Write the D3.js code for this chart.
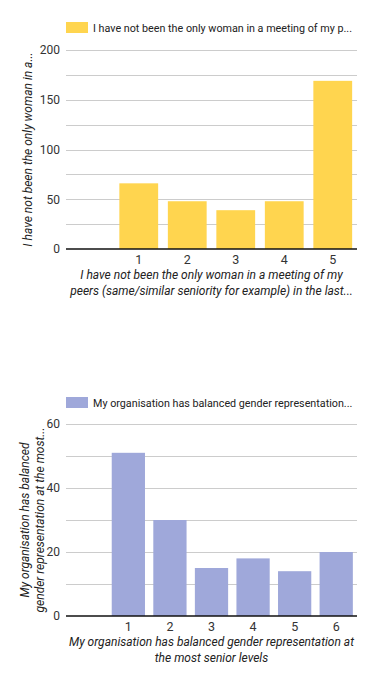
<!DOCTYPE html>
<html>
<head>
<meta charset="utf-8">
<script src="https://cdn.jsdelivr.net/npm/d3@7"></script>
<style>
  body { margin: 0; background: #fff; font-family: Roboto, Arial, sans-serif; }
  svg { display: block; }
</style>
</head>
<body>
<div id="chart"></div>
<script>
// chart 1
var cats1 = ["", "1", "2", "3", "4", "5"];
var vals1 = [null, 66, 48, 39, 48, 169];
var ticks1 = [0, 50, 100, 150, 200];
var legend1 = "I have not been the only woman in a meeting of my p...";
var yTitle1 = ["I have not been the only woman in a..."];
var xTitle1 = ["I have not been the only woman in a meeting of my",
               "peers (same/similar seniority for example) in the last..."];

// chart 2
var cats2 = ["", "1", "2", "3", "4", "5", "6"];
var vals2 = [null, 51, 30, 15, 18, 14, 20];
var ticks2 = [0, 20, 40, 60];
var legend2 = "My organisation has balanced gender representation...";
var yTitle2 = ["My organisation has balanced", "gender representation at the most..."];
var xTitle2 = ["My organisation has balanced gender representation at",
               "the most senior levels"];

var svg = d3.select("#chart").append("svg").attr("width", 374).attr("height", 681);

// shrink a text until it fits the given width
function fit(sel, w) {
  sel.each(function() {
    var fs = +this.getAttribute("font-size");
    while (this.getComputedTextLength() > w && fs > 8) {
      fs -= 0.25;
      this.setAttribute("font-size", fs);
    }
  });
}

function drawChart(opt) {
  var g = svg.append("g");
  var left = 66, right = 357;

  var x = d3.scaleBand().domain(opt.cats).range([left, right])
    .paddingInner(0.2).paddingOuter(0.1);
  var y = d3.scaleLinear().domain([0, opt.max]).range([opt.bottom, opt.top]);

  // legend
  g.append("rect").attr("x", 66).attr("y", opt.legendY).attr("width", 22).attr("height", 11)
    .attr("fill", opt.color);
  g.append("text").attr("x", 93).attr("y", opt.legendY + 10)
    .attr("font-size", 12).attr("fill", "#222").text(opt.legend)
    .call(fit, 262);

  // gridlines (major + minor)
  var step = opt.ticks[1] - opt.ticks[0];
  var grid = [];
  for (var i = 0; i < opt.ticks.length - 1; i++) {
    grid.push(opt.ticks[i] + step / 2, opt.ticks[i + 1]);
  }
  g.selectAll(".grid").data(grid).enter().append("line")
    .attr("x1", left).attr("x2", right)
    .attr("y1", d => Math.round(y(d)) + 0.5).attr("y2", d => Math.round(y(d)) + 0.5)
    .attr("stroke", "#ccc").attr("stroke-width", 1);

  // y axis labels
  var yAxis = d3.axisLeft(y).tickValues(opt.ticks).tickSize(0).tickPadding(6);
  var ya = g.append("g").attr("transform", "translate(" + left + ",0)").call(yAxis);
  ya.select(".domain").remove();
  ya.selectAll("text").attr("font-size", 12).attr("font-family", "Roboto, Arial, sans-serif")
    .attr("fill", "#333");

  // bars
  g.selectAll(".bar").data(opt.cats.map((c, i) => ({ c: c, v: opt.vals[i] })).filter(d => d.v != null))
    .enter().append("rect")
    .attr("x", d => x(d.c)).attr("width", x.bandwidth())
    .attr("y", d => y(d.v)).attr("height", d => y(0) - y(d.v))
    .attr("fill", opt.color);

  // baseline
  g.append("line").attr("x1", left).attr("x2", right)
    .attr("y1", y(0)).attr("y2", y(0)).attr("stroke", "#111").attr("stroke-width", 1.5);

  // x axis labels
  var xAxis = d3.axisBottom(x).tickSize(0).tickPadding(6);
  var xa = g.append("g").attr("transform", "translate(0," + y(0) + ")").call(xAxis);
  xa.select(".domain").remove();
  xa.selectAll("text").attr("font-size", 12.5).attr("font-family", "Roboto, Arial, sans-serif")
    .attr("fill", "#333");

  // x title
  g.selectAll(".xt").data(opt.xTitle).enter().append("text")
    .attr("x", (left + right) / 2).attr("y", (d, i) => opt.bottom + 30 + i * 16)
    .attr("text-anchor", "middle").attr("font-size", 12).attr("font-style", "italic")
    .attr("fill", "#222").text(d => d);

  // y title
  var cy = (opt.top + opt.bottom) / 2;
  g.selectAll(".yt").data(opt.yTitle).enter().append("text")
    .attr("transform", (d, i) => "translate(" + (opt.yTitleX + i * 15) + "," + cy + ") rotate(-90)")
    .attr("text-anchor", "middle").attr("font-size", 12).attr("font-style", "italic")
    .attr("fill", "#222").text(d => d)
    .call(fit, opt.yTitleW);
}

drawChart({ cats: cats1, vals: vals1, ticks: ticks1, max: 200, top: 50, bottom: 249,
  color: "#ffd54f", legend: legend1, legendY: 22, xTitle: xTitle1, yTitle: yTitle1,
  yTitleX: 32, yTitleW: 196 });

drawChart({ cats: cats2, vals: vals2, ticks: ticks2, max: 60, top: 424, bottom: 616,
  color: "#9fa8da", legend: legend2, legendY: 397, xTitle: xTitle2, yTitle: yTitle2,
  yTitleX: 29, yTitleW: 186 });
</script>
</body>
</html>
